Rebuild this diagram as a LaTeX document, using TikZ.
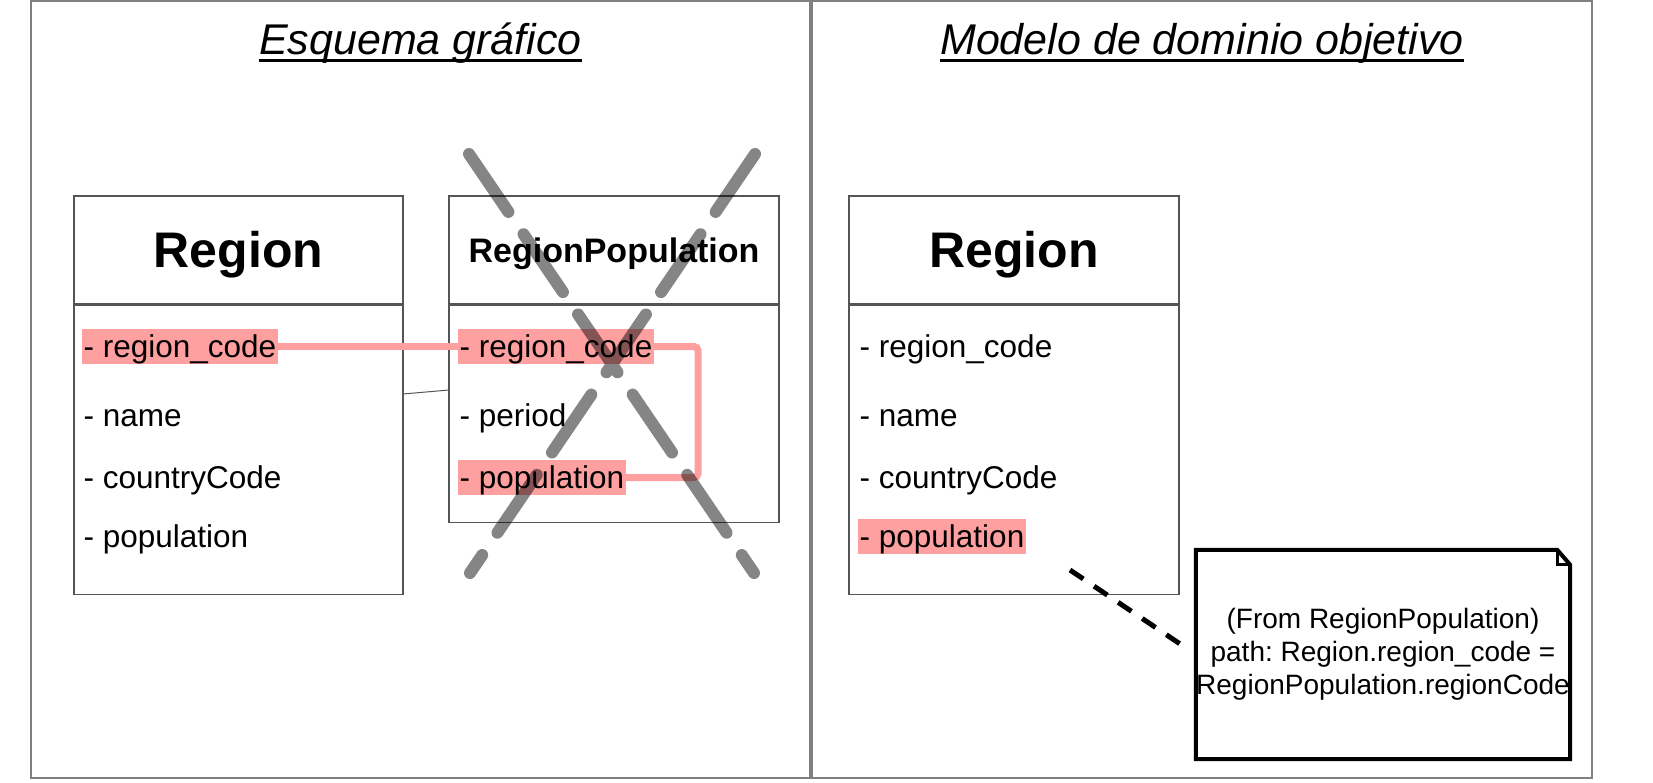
\documentclass[tikz,border=0pt]{standalone}
\usepackage{fontspec}
\setmainfont{Liberation Sans}
\usetikzlibrary{positioning, calc}

\definecolor{panelgray}{RGB}{128,128,128}
\definecolor{boxgray}{RGB}{85,85,85}
\definecolor{hlpink}{RGB}{255,160,160}

\begin{document}
\begin{tikzpicture}[x=1pt, y=-1pt, node distance=0pt]
    \tikzstyle{panel}=[draw=panelgray, line width=2pt];
    \tikzstyle{paneltitle}=[anchor=base, inner sep=0pt, font=\fontsize{43}{50}\selectfont\itshape];
    \tikzstyle{classhead}=[draw=boxgray, line width=1.2pt, rectangle, minimum height=108pt, text height=35.5pt, text depth=0pt, inner sep=0pt, font=\fontsize{50}{56}\selectfont\bfseries];
    \tikzstyle{classbody}=[draw=boxgray, line width=1.2pt, rectangle, inner sep=0pt];
    \tikzstyle{attr}=[anchor=base west, inner xsep=1.5pt, inner ysep=0pt, text height=28pt, text depth=7pt, font=\fontsize{31.5}{35}\selectfont];
    \tikzstyle{marked}=[attr, fill=hlpink];
    \tikzstyle{link}=[draw=hlpink, line width=7pt];
    \tikzstyle{thinlink}=[draw=boxgray, line width=1pt];
    \tikzstyle{cross}=[draw=black, opacity=.48, line width=12pt, line cap=round, dash pattern=on 70pt off 27pt];
    \tikzstyle{notetext}=[minimum width=374pt, minimum height=209pt, inner sep=0pt, align=center, font=\fontsize{28}{33}\selectfont\frenchspacing];
    \tikzstyle{notebox}=[draw=black, line width=4pt];
    \tikzstyle{hint}=[draw=black, line width=5pt, dash pattern=on 16pt off 13pt, shorten >=12pt];

    \fill[white] (0,0) rectangle (1653,782);
    \useasboundingbox (0,0) rectangle (1653,782);

    \draw[panel] (31,1) rectangle (810,778);
    \draw[panel] (812,1) rectangle (1592,778);

    \node[paneltitle] (titleA) at (420.5,54) {Esquema gráfico};
    \node[paneltitle] (titleB) at (1202,54) {Modelo de dominio objetivo};
    \draw[line width=3pt] ([yshift=-6pt]titleA.base west) -- ([yshift=-6pt]titleA.base east);
    \draw[line width=3pt] ([yshift=-6pt]titleB.base west) -- ([yshift=-6pt]titleB.base east);

    \node[classhead, minimum width=329pt] (regionA) at (238.5,250) {Region};
    \node[classbody, minimum width=329pt, minimum height=289pt, below=of regionA] (regionAbody) {};
    \node[classhead, minimum width=330pt, text height=24.3pt, font=\fontsize{34}{40}\selectfont\bfseries] (regpop) at (614,250) {RegionPopulation};
    \node[classbody, minimum width=330pt, minimum height=217pt, below=of regpop] (regpopbody) {};
    \node[classhead, minimum width=330pt] (regionB) at (1014,250) {Region};
    \node[classbody, minimum width=330pt, minimum height=289pt, below=of regionB] (regionBbody) {};

    \node[marked] (regionAcode) at (82,357) {- region\_code};
    \node[attr] (regionAname) at (82,426) {- name};
    \node[attr] (regionAcountry) at (82,488) {- countryCode};
    \node[attr] (regionApop) at (82,547) {- population};

    \node[marked] (regpopcode) at (458,357) {- region\_code};
    \node[attr] (regpopperiod) at (458,426) {- period};
    \node[marked] (regpoppop) at (458,488) {- population};

    \node[attr] (regionBcode) at (858,357) {- region\_code};
    \node[attr] (regionBname) at (858,426) {- name};
    \node[attr] (regionBcountry) at (858,488) {- countryCode};
    \node[marked] (regionBpop) at (858,547) {- population};

    \coordinate (joinA) at (403,394);
    \coordinate (joinB) at (449,390);
    \draw[thinlink] (joinA) -- (joinB);

    \draw[link] (regionAcode.east) -- (regpopcode.west);
    \draw[link, rounded corners=4pt] (regpopcode.east) -- ++(44,0) |- (regpoppop.east);

    \draw[cross] (469,154) -- (754,573) (755,154) -- (470,573);

    \node[notetext] (note) at (1383,654.5) {(From RegionPopulation)\\path: Region.region\_code =\\RegionPopulation.regionCode};
    \draw[notebox] (note.north west) -- ([xshift=-13pt]note.north east) -- ([yshift=-15pt]note.north east) -- (note.south east) -- (note.south west) -- cycle;
    \draw[notebox, line width=3pt] ([xshift=-13pt]note.north east) -- ([xshift=-13pt,yshift=-15pt]note.north east) -- ([yshift=-15pt]note.north east);

    \coordinate (popHint) at (1070,570);
    \draw[hint] (popHint) -- (note.west);
\end{tikzpicture}
\end{document}
